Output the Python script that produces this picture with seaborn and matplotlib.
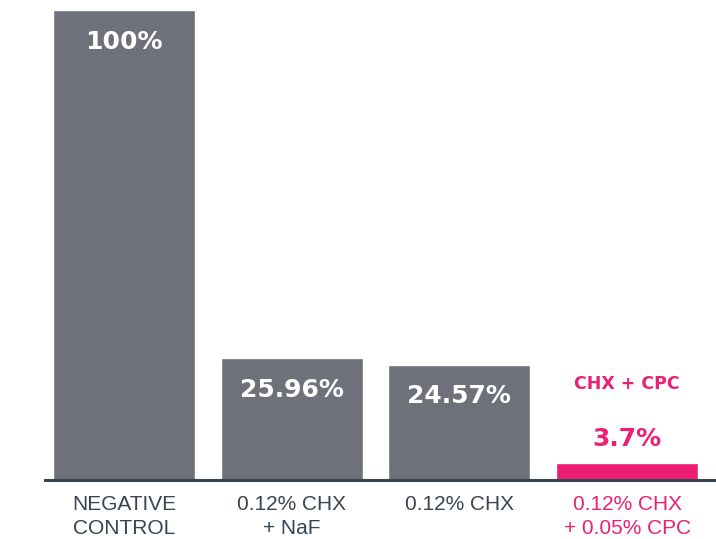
import matplotlib
matplotlib.use('Agg')
import matplotlib.pyplot as plt
from matplotlib import font_manager
import seaborn as sns
import pandas as pd

# data
categories = ['NEGATIVE\nCONTROL', '0.12% CHX\n+ NaF', '0.12% CHX', '0.12% CHX\n+ 0.05% CPC']
values = [100, 25.96, 24.57, 3.7]
value_labels = ['100%', '25.96%', '24.57%', '3.7%']
highlight_title = 'CHX + CPC'

GRAY = '#6f717a'
PINK = '#ec1f74'
AXIS = '#3a4450'
bar_colors = [GRAY, GRAY, GRAY, PINK]

sns.set_style('white')
plt.rcParams['font.family'] = ['DejaVu Sans']

# condensed face for the category labels if we have one
installed = {f.name for f in font_manager.fontManager.ttflist}
if 'Liberation Sans Narrow' in installed:
    cat_font, cat_size = 'Liberation Sans Narrow', 16
else:
    cat_font, cat_size = 'Liberation Sans', 15

df = pd.DataFrame({'cat': categories, 'val': values})

fig = plt.figure(figsize=(7.16, 5.39), dpi=100)
ax = fig.add_axes([45 / 716, 59 / 539, 671 / 716, 470 / 539])

sns.barplot(data=df, x='cat', y='val', hue='cat', palette=bar_colors,
            legend=False, width=0.847, saturation=1, ax=ax)

ax.set_xlim(-0.471, 3.53)
ax.set_ylim(0, 100)
ax.set_xlabel('')
ax.set_ylabel('')
ax.set_yticks([])
ax.set_xticks(range(len(categories)))
ax.set_xticklabels(categories, fontfamily=cat_font, fontsize=cat_size,
                   linespacing=1.3)
sns.despine(ax=ax, left=True, top=True, right=True)
ax.spines['bottom'].set_color(AXIS)
ax.spines['bottom'].set_linewidth(2.2)
ax.spines['bottom'].set_zorder(5)
ax.tick_params(axis='x', length=0, pad=11)

for lbl, col in zip(ax.get_xticklabels(), bar_colors):
    lbl.set_color(PINK if col == PINK else AXIS)

# value labels
for i, (v, txt) in enumerate(zip(values, value_labels)):
    if i == len(values) - 1:
        ax.annotate(txt, (i, v), xytext=(0, 17.3), textcoords='offset points',
                    ha='center', va='center', color=PINK, fontsize=18,
                    fontweight='bold')
        ax.annotate(highlight_title, (i, v), xytext=(0, 56.5), textcoords='offset points',
                    ha='center', va='center', color=PINK, fontsize=12.5,
                    fontweight='bold')
    else:
        ax.annotate(txt, (i, v), xytext=(0, -23), textcoords='offset points',
                    ha='center', va='center', color='white', fontsize=18,
                    fontweight='bold')

fig.savefig('out.png', dpi=100)
